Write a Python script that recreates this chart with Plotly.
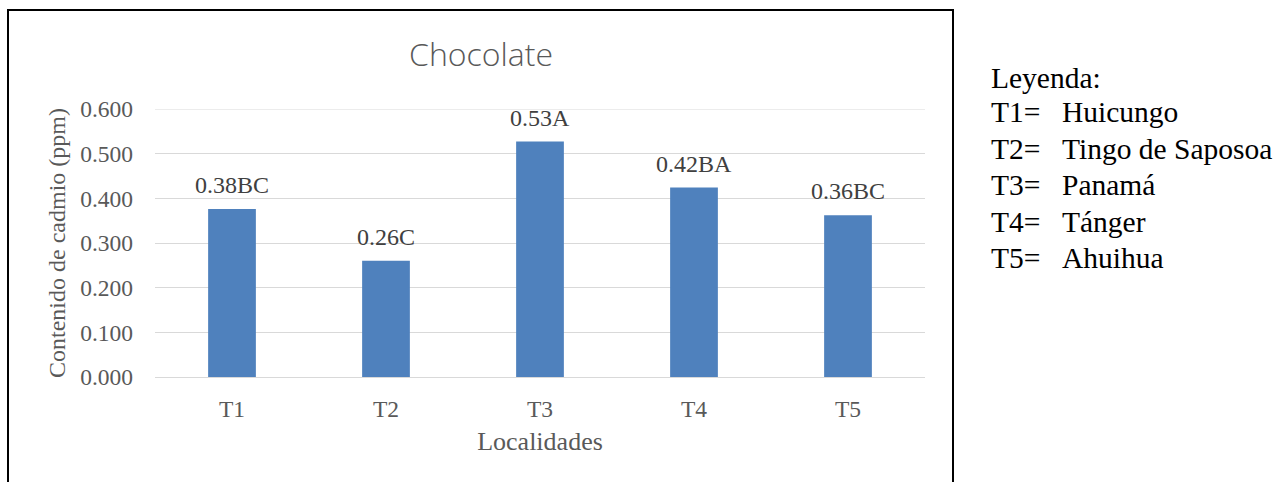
import plotly.graph_objects as go

categories = ["T1", "T2", "T3", "T4", "T5"]
values = [0.376, 0.260, 0.527, 0.424, 0.362]
labels = ["0.38BC", "0.26C", "0.53A", "0.42BA", "0.36BC"]
y_ticks = [0.0, 0.1, 0.2, 0.3, 0.4, 0.5, 0.6]
y_tick_text = ["0.000", "0.100", "0.200", "0.300", "0.400", "0.500", "0.600"]
legend_title = "Leyenda:"
legend_codes = ["T1=", "T2=", "T3=", "T4=", "T5="]
legend_names = ["Huicungo", "Tingo de Saposoa", "Panamá", "Tánger", "Ahuihua"]

W, H = 1276, 482
L, R, T, B = 155, 925, 109, 377

def px(x):
    return (x - L) / (R - L)

def py(y):
    return (B - y) / (B - T)

serif = "Liberation Serif, Times New Roman, serif"

fig = go.Figure()
fig.add_trace(go.Bar(
    x=categories, y=values,
    marker=dict(color="#4F81BD", line=dict(width=0)),
))

# data labels
for c, v, t in zip(categories, values, labels):
    fig.add_annotation(x=c, y=v, xref="x", yref="y", text=t, showarrow=False,
                       yanchor="bottom", xanchor="center", yshift=9,
                       font=dict(family=serif, size=24, color="#404040"))

fig.update_layout(
    width=W, height=H,
    margin=dict(l=L, r=W - R, t=T, b=H - B, pad=0),
    paper_bgcolor="white", plot_bgcolor="white",
    showlegend=False, bargap=0.69,
    title=dict(text="Chocolate", x=px(481), xref="paper", xanchor="center",
               y=1 - 55 / H, yanchor="middle",
               font=dict(family="Open Sans, sans-serif", size=32, color="#595959", weight=300)),
    font=dict(family=serif),
)
fig.update_yaxes(
    range=[0, 0.6], tickvals=y_ticks, ticktext=y_tick_text,
    showgrid=True, gridcolor="#D9D9D9", gridwidth=1,
    zeroline=True, zerolinecolor="#D9D9D9", zerolinewidth=1,
    showline=False, ticks="", ticklabelstandoff=21,
    tickfont=dict(family=serif, size=23.5, color="#595959"),
    title=dict(text="Contenido de cadmio (ppm)", standoff=7,
               font=dict(family=serif, size=24, color="#595959")),
)
fig.update_xaxes(
    showgrid=False, showline=False, ticks="", ticklabelstandoff=15,
    tickfont=dict(family=serif, size=23.5, color="#595959"),
    title=dict(text="Localidades", standoff=11,
               font=dict(family=serif, size=26, color="#595959")),
)

# chart border box
fig.add_shape(type="rect", xref="paper", yref="paper",
              x0=px(8), x1=px(953), y0=py(10), y1=py(500),
              line=dict(color="black", width=2), fillcolor="rgba(0,0,0,0)", layer="above")

# top gridline (0.6)
fig.add_shape(type="line", xref="paper", yref="y", x0=0, x1=1, y0=0.6, y1=0.6,
              line=dict(color="#D9D9D9", width=1), layer="below")

# side legend text
fig.add_annotation(text=legend_title, xref="paper", yref="paper", x=px(989), y=py(78),
                   xanchor="left", yanchor="middle", showarrow=False,
                   font=dict(family=serif, size=29.5, color="black"))
for i, (c, n) in enumerate(zip(legend_codes, legend_names)):
    yy = 112 + i * 36.5
    fig.add_annotation(text=c, xref="paper", yref="paper", x=px(989), y=py(yy),
                       xanchor="left", yanchor="middle", showarrow=False,
                       font=dict(family=serif, size=29.5, color="black"))
    fig.add_annotation(text=n, xref="paper", yref="paper", x=px(1060), y=py(yy),
                       xanchor="left", yanchor="middle", showarrow=False,
                       font=dict(family=serif, size=29.5, color="black"))

fig.write_html("out.html")
